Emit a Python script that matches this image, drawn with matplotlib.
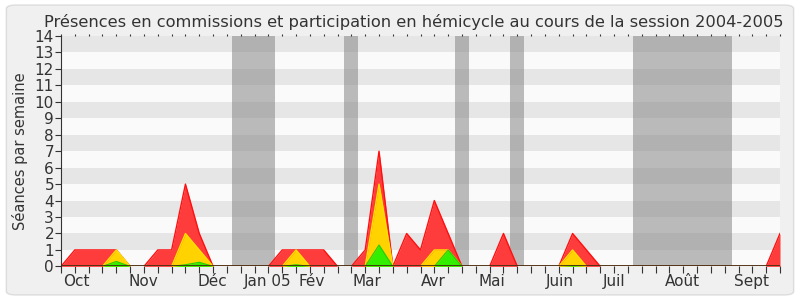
import matplotlib
matplotlib.use("Agg")
import matplotlib.pyplot as plt
from matplotlib.patches import FancyBboxPatch

# weekly values, session 2004-2005 (53 weeks)
weeks = list(range(53))
hemicycle = [0, 1, 1, 1, 1, 0, 0, 1, 1, 5, 2, 0, 0, 0, 0, 0, 1, 1, 1, 1,
             0, 0, 1, 7, 0, 2, 1, 4, 2, 0, 0, 0, 2, 0, 0, 0, 0, 2, 1, 0,
             0, 0, 0, 0, 0, 0, 0, 0, 0, 0, 0, 0, 2]
commission = [0, 0, 0, 0, 1, 0, 0, 0, 0, 2, 1, 0, 0, 0, 0, 0, 0, 1, 0, 0,
              0, 0, 0, 5, 0, 0, 0, 1, 1, 0, 0, 0, 0, 0, 0, 0, 0, 1, 0, 0,
              0, 0, 0, 0, 0, 0, 0, 0, 0, 0, 0, 0, 0]
interventions = [0, 0, 0, 0, 0.3, 0, 0, 0, 0, 0.1, 0.25, 0, 0, 0, 0, 0, 0, 0.1, 0, 0,
                 0, 0, 0, 1.3, 0, 0, 0, 0, 1, 0, 0, 0, 0, 0, 0, 0, 0, 0.05, 0, 0,
                 0, 0, 0, 0, 0, 0, 0, 0, 0, 0, 0, 0, 0]

# holidays (in weeks from start)
vacances = [(12.4, 15.5), (20.5, 21.5), (28.5, 29.5), (32.5, 33.5), (41.4, 48.5)]

month_pos = [1.13, 5.93, 10.98, 14.96, 18.15, 22.15, 26.9, 31.15, 36.1, 40.0, 44.97, 49.96]
month_labels = ["Oct", "Nov", "Déc", "Jan 05", "Fév", "Mar", "Avr", "Mai",
                "Juin", "Juil", "Août", "Sept"]

fig = plt.figure(figsize=(8, 3), dpi=100)
fig.patch.set_facecolor("white")
frame = FancyBboxPatch((0.008, 0.017), 0.984, 0.966,
                       boxstyle="round,pad=0,rounding_size=0.012",
                       transform=fig.transFigure, facecolor="#f0f0f0",
                       edgecolor="#dcdcdc", linewidth=1.0, zorder=-10)
fig.patches.append(frame)

ax = fig.add_axes([0.07625, 0.112, 0.89875, 0.768])
ax.set_facecolor("#fafafa")

# horizontal bands
for y0 in range(1, 14, 2):
    ax.axhspan(y0, y0 + 1, color="#e6e6e6", lw=0, zorder=0)

# holidays
for a, b in vacances:
    ax.axvspan(a, b, color="#8c8c8c", alpha=0.58, lw=0, zorder=1)

ax.fill_between(weeks, hemicycle, color="#ff3c3c", lw=0, zorder=2)
ax.plot(weeks, hemicycle, color="#ff1010", lw=1.0, zorder=2.1)
ax.fill_between(weeks, commission, color="#ffd200", lw=0, zorder=3)
ax.plot(weeks, commission, color="#ffe000", lw=1.0, zorder=3.1)
ax.fill_between(weeks, interventions, color="#33ee00", lw=0, zorder=4)
ax.plot(weeks, interventions, color="#22cc00", lw=0.8, zorder=4.1)
ax.axhline(0, color="#402010", lw=1.2, zorder=5)

ax.set_xlim(0, 52)
ax.set_ylim(0, 14)

for side in ["top", "right", "bottom"]:
    ax.spines[side].set_visible(False)
ax.spines["left"].set_color("#333333")
ax.spines["left"].set_linewidth(0.8)

ax.set_yticks(range(15))
ax.tick_params(axis="y", direction="out", length=4, width=0.8, color="#333333",
               labelsize=11, labelcolor="#333333", pad=1)

ax.set_xticks(weeks)
ax.set_xticklabels([])
ax.tick_params(axis="x", which="major", direction="out", length=5, width=0.8,
               color="#333333", top=True)
for t in ax.xaxis.get_major_ticks():
    t.tick2line.set_markersize(1.5)
    t.tick2line.set_color("#555555")

for p, lab in zip(month_pos, month_labels):
    ax.text(p, -0.45, lab, ha="center", va="top", fontsize=11, color="#333333",
            clip_on=False)

ax.set_ylabel("Séances par semaine", fontsize=10.5, color="#333333", labelpad=5)
fig.text(0.5175, 0.91, "Présences en commissions et participation en hémicycle au cours de la session 2004-2005",
         ha="center", va="baseline", fontsize=11.7, color="#333333")

fig.savefig("out.png", dpi=100, facecolor=fig.get_facecolor())
